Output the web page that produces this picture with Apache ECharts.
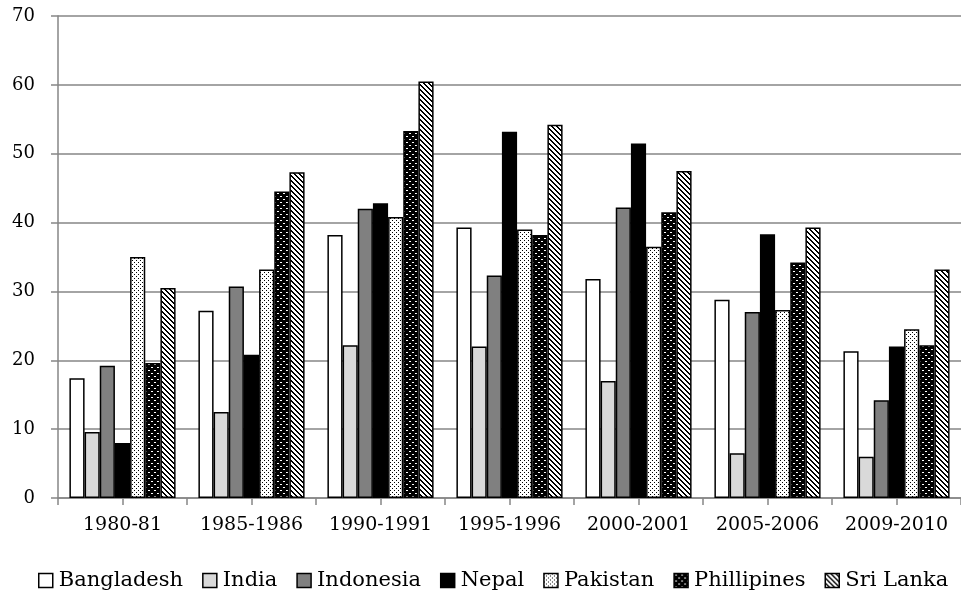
<!DOCTYPE html>
<html>
<head>
<meta charset="utf-8">
<script src="https://cdn.jsdelivr.net/npm/echarts@6/dist/echarts.min.js"></script>
<style>
    html, body { margin: 0; padding: 0; background: #fff; }
    #main { width: 961px; height: 597px; }
</style>
</head>
<body>
<div id="main"></div>
<script>
var periods = ['1980-81', '1985-1986', '1990-1991', '1995-1996', '2000-2001', '2005-2006', '2009-2010'];
var countries = ['Bangladesh', 'India', 'Indonesia', 'Nepal', 'Pakistan', 'Phillipines', 'Sri Lanka'];

var bangladesh = [17.4, 27.2, 38.2, 39.3, 31.8, 28.8, 21.3];
var india = [9.6, 12.5, 22.2, 22.0, 17.0, 6.5, 6.0];
var indonesia = [19.2, 30.7, 42.0, 32.3, 42.2, 27.0, 14.2];
var nepal = [8.0, 20.8, 42.8, 53.2, 51.5, 38.3, 22.0];
var pakistan = [35.0, 33.2, 40.8, 39.0, 36.5, 27.3, 24.5];
var phillipines = [19.6, 44.5, 53.3, 38.2, 41.5, 34.2, 22.2];
var sriLanka = [30.5, 47.3, 60.5, 54.2, 47.5, 39.3, 33.2];

var makeTile = function (size, bg, draw) {
    var c = document.createElement('canvas');
    c.width = size;
    c.height = size;
    var ctx = c.getContext('2d');
    ctx.fillStyle = bg;
    ctx.fillRect(0, 0, size, size);
    draw(ctx, size);
    return { image: c, repeat: 'repeat' };
};

// small black dots on white
var dotsFill = makeTile(4, '#fff', function (ctx) {
    ctx.fillStyle = '#000';
    ctx.fillRect(0, 0, 1, 1);
    ctx.fillRect(2, 2, 1, 1);
});
// white dots on black
var darkDotsFill = makeTile(6, '#000', function (ctx) {
    ctx.fillStyle = '#fff';
    ctx.fillRect(1, 1, 2, 1);
    ctx.fillRect(4, 4, 2, 1);
});
// diagonal stripes going down to the right
var stripeFill = makeTile(5, '#fff', function (ctx, size) {
    ctx.fillStyle = '#000';
    for (var y = 0; y < size; y++) {
        ctx.fillRect(y, y, 1, 1);
        ctx.fillRect((y + 1) % size, y, 1, 1);
    }
});

var values = [bangladesh, india, indonesia, nepal, pakistan, phillipines, sriLanka];
var fills = ['#fff', '#d9d9d9', '#808080', '#000', dotsFill, darkDotsFill, stripeFill];

var fontFamily = 'DejaVu Serif';
var axisGray = '#868686';

// tick axis only: a mark every half period, as in the original
var halfSteps = [];
for (var k = 0; k < periods.length * 2; k++) halfSteps.push('');

var series = countries.map(function (name, i) {
    return {
        name: name,
        type: 'bar',
        xAxisIndex: 0,
        data: values[i],
        barGap: '0%',
        barCategoryGap: '17.7%',
        itemStyle: {
            color: fills[i],
            borderColor: '#000',
            borderWidth: 1.5
        }
    };
});

var myChart = echarts.init(document.getElementById('main'));
myChart.setOption({
    backgroundColor: '#fff',
    animation: false,
    grid: {
        left: 58,
        right: -7,
        top: 16,
        bottom: 99
    },
    legend: {
        data: countries,
        top: 570,
        left: 38,
        width: 920,
        padding: 0,
        icon: 'rect',
        itemWidth: 14,
        itemHeight: 14,
        itemGap: 19,
        itemStyle: {
            borderColor: '#000',
            borderWidth: 1.5
        },
        textStyle: {
            fontFamily: fontFamily,
            fontSize: 21,
            color: '#000',
            padding: [0, 0, 0, 1]
        }
    },
    xAxis: [{
        type: 'category',
        data: periods,
        axisLine: { lineStyle: { color: axisGray, width: 1.5 } },
        axisTick: { show: false },
        axisLabel: {
            interval: 0,
            fontFamily: fontFamily,
            fontSize: 19,
            color: '#000',
            margin: 18
        }
    }, {
        type: 'category',
        data: halfSteps,
        position: 'bottom',
        axisLine: { show: false },
        axisTick: { show: true, interval: 0, length: 7, lineStyle: { color: axisGray, width: 1.5 } },
        axisLabel: { show: false },
        splitLine: { show: false }
    }],
    yAxis: {
        type: 'value',
        min: 0,
        max: 70,
        interval: 10,
        axisLine: { show: true, lineStyle: { color: axisGray, width: 1.5 } },
        axisTick: { show: true, length: 7, lineStyle: { color: axisGray, width: 1.5 } },
        splitLine: { lineStyle: { color: axisGray, width: 1.5 } },
        axisLabel: {
            fontFamily: fontFamily,
            fontSize: 18,
            color: '#000',
            margin: 23
        }
    },
    series: series
});
</script>
</body>
</html>
